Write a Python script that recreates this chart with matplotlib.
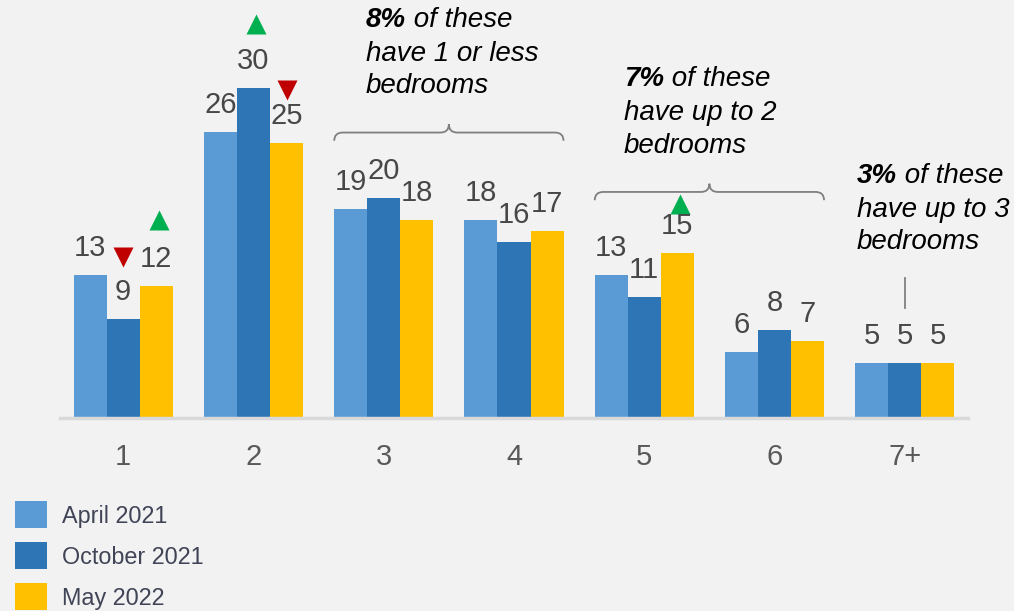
import matplotlib
matplotlib.use("Agg")
import matplotlib.pyplot as plt
import numpy as np
from matplotlib.patches import Rectangle, PathPatch
from matplotlib.path import Path

plt.rcParams['font.family'] = ['Liberation Sans', 'DejaVu Sans']

categories = ["1", "2", "3", "4", "5", "6", "7+"]
series_names = ["April 2021", "October 2021", "May 2022"]
april_2021 = [13, 26, 19, 18, 13, 6, 5]
october_2021 = [9, 30, 20, 16, 11, 8, 5]
may_2022 = [12, 25, 18, 17, 15, 7, 5]
colors = ["#5B9BD5", "#2E75B6", "#FFC000"]

# change markers: (category index, series index, direction)
changes = [(0, 1, "down"), (0, 2, "up"), (1, 1, "up"), (1, 2, "down"), (4, 2, "up")]
# vertical placement of each change marker above its bar (style only)
marker_offsets = [5.6, 6.0, 5.8, 4.8, 4.45]

W, H = 1014, 611
fig = plt.figure(figsize=(W / 100, H / 100), dpi=100, facecolor="#F2F2F2")
ax = fig.add_axes([60 / W, (H - 418) / H, 908 / W, 418 / H])
ax.set_facecolor("#F2F2F2")

x = np.arange(len(categories))
bw = 0.254
series = [april_2021, october_2021, may_2022]
for i, (vals, c) in enumerate(zip(series, colors)):
    pos = x + (i - 1) * bw
    ax.bar(pos, vals, width=bw, color=c, edgecolor="none", label=series_names[i])
    for px_, v in zip(pos, vals):
        ax.text(px_, v + 2.45, str(v), ha="center", va="center", fontsize=21, color="#474747")

ax.set_xlim(-0.485, 6.485)
ax.set_ylim(0, 38)
for s in ["top", "right", "left"]:
    ax.spines[s].set_visible(False)
ax.spines["bottom"].set_color("#D9D9D9")
ax.spines["bottom"].set_linewidth(2.5)
ax.set_yticks([])
ax.set_xticks(x)
ax.set_xticklabels(categories, fontsize=21, color="#595959")
ax.tick_params(axis="x", length=0, pad=18)

# change triangles
for (ci, si, d), off in zip(changes, marker_offsets):
    v = series[si][ci]
    xp = ci + (si - 1) * bw
    if d == "up":
        ax.plot(xp + 0.02, v + off, marker="^", color="#00B050", ms=14, mec="none", clip_on=False)
    else:
        ax.plot(xp, v + off, marker="v", color="#C00000", ms=14, mec="none", clip_on=False)


def brace(ax, x0, x1, y0, h=0.75, r=0.065, color="#7F7F7F"):
    xm = (x0 + x1) / 2
    yl = y0 + h
    yt = y0 + 2 * h
    verts = [(x0, y0), (x0, yl), (x0 + r, yl), (xm - r, yl),
             (xm, yl), (xm, yt),
             (xm, yl), (xm + r, yl),
             (x1 - r, yl), (x1, yl), (x1, y0)]
    codes = [Path.MOVETO, Path.CURVE3, Path.CURVE3, Path.LINETO,
             Path.CURVE3, Path.CURVE3,
             Path.CURVE3, Path.CURVE3,
             Path.LINETO, Path.CURVE3, Path.CURVE3]
    ax.add_patch(PathPatch(Path(verts, codes), fc="none", ec=color, lw=1.3, clip_on=False))


brace(ax, 1.62, 3.38, 25.2)
brace(ax, 3.62, 5.38, 19.8)
ax.plot([6, 6], [10.0, 12.7], color="#7F7F7F", lw=1.3)


def annot(xpx, ycs, pct, rest, lines):
    t = fig.text(xpx / W, 1 - ycs[0] / H, pct, fontsize=20, fontstyle="italic",
                 fontweight="bold", ha="left", va="center", color="black")
    ax.annotate(rest, xy=(1, 0), xycoords=t, ha="left", va="bottom", fontsize=20,
                fontstyle="italic", color="black", annotation_clip=False)
    for yc, ln in zip(ycs[1:], lines):
        fig.text(xpx / W, 1 - yc / H, ln, fontsize=20, fontstyle="italic",
                 ha="left", va="center", color="black")


annot(366, [20, 54, 86], "8%", " of these", ["have 1 or less", "bedrooms"])
annot(624, [79, 113, 146], "7%", " of these", ["have up to 2", "bedrooms"])
annot(857, [176, 210, 242], "3%", " of these", ["have up to 3", "bedrooms"])

# legend
for i, (name, c) in enumerate(zip(series_names, colors)):
    yt = 501 + 41 * i
    fig.patches.append(Rectangle((15 / W, 1 - (yt + 27) / H), 32 / W, 27 / H,
                                 transform=fig.transFigure, fc=c, ec="none"))
    fig.text(62 / W, 1 - (yt + 15) / H, name, fontsize=16.8, color="#404456",
             ha="left", va="center")

fig.savefig("out.png", dpi=100, facecolor="#F2F2F2")
